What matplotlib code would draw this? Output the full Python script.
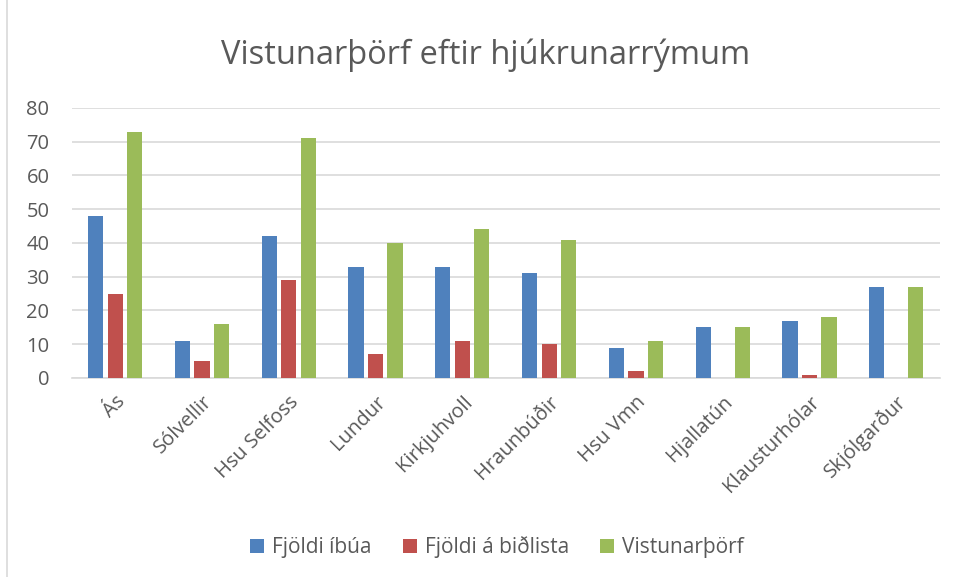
import matplotlib.pyplot as plt
import numpy as np
from matplotlib.patches import Rectangle

plt.rcParams["font.family"] = ["Open Sans", "DejaVu Sans"]

categories = ["Ás", "Sólvellir", "Hsu Selfoss", "Lundur", "Kirkjuhvoll",
              "Hraunbúðir", "Hsu Vmn", "Hjallatún", "Klausturhólar", "Skjólgarður"]
series_names = ["Fjöldi íbúa", "Fjöldi á biðlista", "Vistunarþörf"]
ibuar = [48, 11, 42, 33, 33, 31, 9, 15, 17, 27]
bidlisti = [25, 5, 29, 7, 11, 10, 2, 0, 1, 0]
thorf = [73, 16, 71, 40, 44, 41, 11, 15, 18, 27]
colors = ["#4f81bd", "#c0504d", "#9bbb59"]

fig = plt.figure(figsize=(9.56, 5.77), dpi=100)
ax = fig.add_axes([0.075, 0.345, 0.908, 0.468])

# light frame around the chart area
fig.patches.append(Rectangle((0.007, -0.01), 1.2, 1.2, transform=fig.transFigure,
                             fill=False, edgecolor="#d9d9d9", linewidth=1.2))

x = np.arange(len(categories))
w = 0.175
step = 0.225
for i, (vals, name) in enumerate(zip([ibuar, bidlisti, thorf], series_names)):
    ax.bar(x + (i - 1) * step, vals, width=w, color=colors[i], label=name, zorder=3)

ax.set_xlim(-0.5, len(categories) - 0.5)
ax.set_ylim(0, 80)
ax.set_yticks(range(0, 81, 10))
ax.grid(axis="y", color="#d9d9d9", linewidth=1.2, zorder=0)
for s in ["top", "right", "left"]:
    ax.spines[s].set_visible(False)
ax.spines["bottom"].set_color("#d9d9d9")
ax.spines["bottom"].set_linewidth(1.2)
ax.tick_params(axis="both", length=0, labelsize=14.5, labelcolor="#595959")
ax.tick_params(axis="y", pad=16)
ax.set_xticks(x)
ax.set_xticklabels(categories, rotation=45, ha="right", rotation_mode="anchor")
ax.tick_params(axis="x", pad=10)

fig.text(0.508, 0.905, "Vistunarþörf eftir hjúkrunarrýmum", ha="center", va="center",
         fontsize=23.5, color="#595959")

fig.legend(loc="center", bbox_to_anchor=(0.52, 0.052), ncol=3, frameon=False,
           fontsize=15, labelcolor="#595959", handlelength=0.65, handleheight=0.65,
           columnspacing=1.5, handletextpad=0.4)

fig.savefig("out.png", dpi=100, facecolor="white")
